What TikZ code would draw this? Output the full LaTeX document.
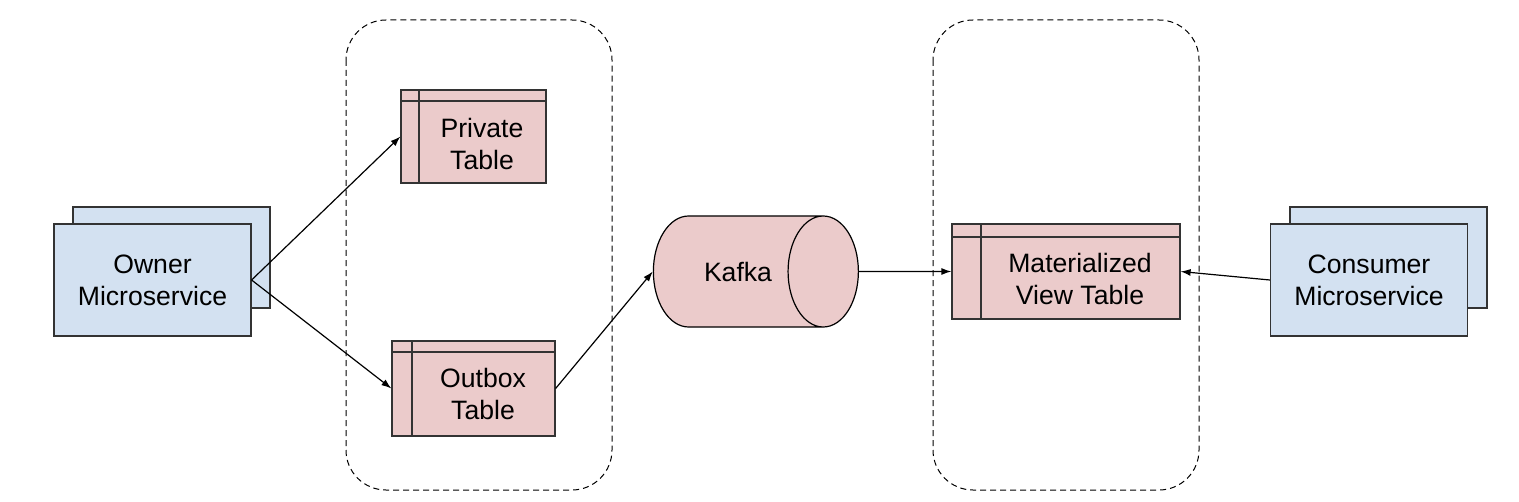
\documentclass[tikz,border=0pt]{standalone}
\usepackage{fontspec}
\setmainfont{Liberation Sans}
\usetikzlibrary{arrows.meta,positioning,calc,shapes.geometric}
\definecolor{SvcBlue}{HTML}{D3E1F1}
\definecolor{TblPink}{HTML}{EBCBCB}
\definecolor{EdgeGray}{HTML}{333333}

\begin{document}
\begin{tikzpicture}[x=0.5pt, y=-0.5pt, every node/.style={font=\fontsize{13.3}{16}\selectfont},
	svc/.style={draw=EdgeGray,line width=0.6pt,fill=SvcBlue,minimum width=98.5pt,inner sep=0pt},
	tbl/.style 2 args={draw=EdgeGray,line width=0.6pt,fill=TblPink,inner sep=0pt,
		path picture={
			\draw[EdgeGray,line width=0.6pt] ($(path picture bounding box.north west)+(0,-#1)$) -- ($(path picture bounding box.north east)+(0,-#1)$);
			\draw[EdgeGray,line width=0.6pt] ($(path picture bounding box.north west)+(#2,0)$) -- ($(path picture bounding box.south west)+(#2,0)$);}},
	txt/.style={align=center,inner sep=0pt},
	grp/.style={draw=black,dash pattern=on 3pt off 2pt,rounded corners=20pt,line width=0.5pt},
	arr/.style={-{Latex[length=5pt,width=3.5pt]},line width=0.6pt,black}]
	\useasboundingbox (0,0) rectangle (1519,502);
	% groups
	\draw[grp] (346,20) rectangle (612,490);
	\draw[grp] (933,20) rectangle (1199,490);
	% services
	\node[svc,minimum height=50.5pt] (ownback) at (171.5,257.5) {};
	\node[svc,minimum height=56pt,txt] (own) at (152.5,280) {Owner\\Microservice};
	\node[svc,minimum height=50.5pt] (consback) at (1388.5,257.5) {};
	\node[svc,minimum height=56pt,txt] (cons) at (1369,280) {Consumer\\Microservice};
	% tables
	\node[tbl={5.5pt}{9pt},minimum width=72.5pt,minimum height=46.5pt] (priv) at (473.5,136.5) {};
	\node[txt] (privtxt) at (482,144) {Private\\Table};
	\node[tbl={5.5pt}{10pt},minimum width=81.5pt,minimum height=47.5pt] (outb) at (473.5,388.5) {};
	\node[txt] (outbtxt) at (483,394) {Outbox\\Table};
	\node[tbl={6.5pt}{14.5pt},minimum width=114pt,minimum height=47.5pt] (matv) at (1066,271.5) {};
	\node[txt] (matvtxt) at (1080,279) {Materialized\\View Table};
	% kafka
	\node[cylinder,draw=black,line width=0.6pt,fill=TblPink,aspect=3.6,minimum width=55.5pt,minimum height=102.5pt,inner sep=0pt] (kafka) at (738,271.5) {Kafka};
	% flows
	\draw[arr] (own.east) -- (priv.west);
	\draw[arr] (own.east) -- (outb.west);
	\draw[arr] (outb.east) -- (kafka.west);
	\draw[arr] (kafka.east) -- (matv.west);
	\draw[arr] (cons.west) -- (matv.east);
\end{tikzpicture}
\end{document}
